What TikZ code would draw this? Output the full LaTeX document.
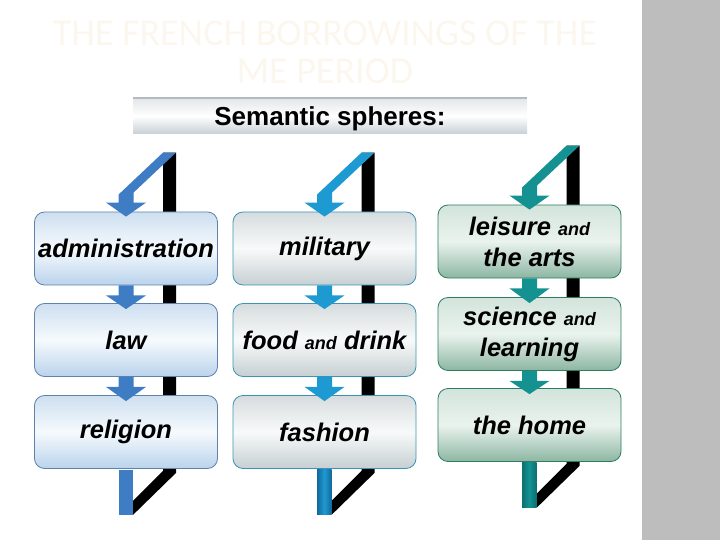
\documentclass[tikz,border=0pt]{standalone}
\usepackage{fontspec}
\setmainfont{Liberation Sans}
\newfontfamily\titlefont{Carlito}
\usetikzlibrary{calc,backgrounds}

\definecolor{blueA}{HTML}{3E7CC3}
\definecolor{blueB}{HTML}{1E9AD2}
\definecolor{blueBd}{HTML}{10689A}
\definecolor{tealC}{HTML}{149292}
\definecolor{tealCd}{HTML}{0B7070}
\definecolor{panelgray}{HTML}{BDBDBD}
\definecolor{titlecol}{HTML}{FCF7EE}
\definecolor{bannerline}{HTML}{B4BABE}
\newcommand{\smalland}{{\fontsize{18}{20}\selectfont and}}

\begin{document}
\begin{tikzpicture}[x=1pt,y=-1pt,
  sphere/.style={rounded corners=10pt,minimum width=183pt,minimum height=73pt,
    inner sep=0pt,align=center,line width=0.8pt,
    font=\fontsize{25.5}{31}\selectfont\bfseries\itshape},
  sphereA/.style={sphere,draw={rgb,255:red,95;green,130;blue,172},
    top color={rgb,255:red,205;green,223;blue,240},bottom color={rgb,255:red,186;green,211;blue,236},
    middle color={rgb,255:red,246;green,250;blue,253}},
  sphereB/.style={sphere,draw={rgb,255:red,60;green,147;blue,181},
    top color={rgb,255:red,214;green,220;blue,222},bottom color={rgb,255:red,198;green,207;blue,210},
    middle color={rgb,255:red,248;green,250;blue,250}},
  sphereC/.style={sphere,draw={rgb,255:red,46;green,125;blue,98},
    top color={rgb,255:red,210;green,228;blue,220},bottom color={rgb,255:red,140;green,182;blue,162},
    middle color={rgb,255:red,234;green,243;blue,238}},
  banner/.style={minimum width=394pt,minimum height=36pt,inner sep=0pt,text depth=0pt,
    top color={rgb,255:red,226;green,230;blue,232},bottom color={rgb,255:red,200;green,208;blue,213},
    middle color=white,font=\fontsize{26}{30}\selectfont\bfseries}]
\useasboundingbox (0,0) rectangle (720,540);
\fill[panelgray] (642,0) rectangle (720,540);
\node[font=\titlefont\fontsize{38}{38}\selectfont,text=titlecol,align=center] (title) at (325,52) {THE FRENCH BORROWINGS OF THE\\ME PERIOD};
\node[banner] (sem) at (330,116) {Semantic spheres:};
\draw[line width=1.5pt,bannerline] (sem.north west) -- (sem.north east);
\node[sphereA] (a1) at (126,248.5) {administration};
\node[sphereA] (a2) at (126,340) {law};
\node[sphereA] (a3) at (126,432) {religion};
\node[sphereB] (m1) at (324.5,248.5) {military};
\node[sphereB] (m2) at (324.5,340) {food \smalland{} drink};
\node[sphereB] (m3) at (324.5,432) {fashion};
\node[sphereC] (l1) at (529.5,241.5) {leisure \smalland\\the arts};
\node[sphereC] (l2) at (529.5,334) {science \smalland\\learning};
\node[sphereC] (l3) at (529.5,425) {the home};
\begin{scope}[on background layer]
\fill[black] ($(a1.north)+(37,-59)$) -- ++(13,0) -- ($(a3.south)+(50,4)$) -- ($(a3.south)+(7,46)$) -- ++(0,-14) -- ($(a3.south)+(37,2)$) -- cycle;
\fill[black] ($(m1.north)+(37,-59)$) -- ++(13,0) -- ($(m3.south)+(50,4)$) -- ($(m3.south)+(7,46)$) -- ++(0,-14) -- ($(m3.south)+(37,2)$) -- cycle;
\fill[black] ($(l1.north)+(37,-59)$) -- ++(13,0) -- ($(l3.south)+(50,4)$) -- ($(l3.south)+(7,46)$) -- ++(0,-14) -- ($(l3.south)+(37,2)$) -- cycle;
\end{scope}
% administration, law, religion
\fill[blueA] ($(a1.north)+(37,-59)$) -- ++(13,0) -- ($(a1.north)+(7.5,-19)$) -- ++(0,10) -- ++(12.5,0) -- ($(a1.north)+(0,5)$) -- ++(-20,-14) -- ++(12.5,0) -- ++(0,-8) -- cycle;
\fill[blueA] ($(a1.south)+(-7.5,0)$) -- ++(0,10) -- ++(-12.5,0) -- ($(a2.north)+(0,6)$) -- ($(a1.south)+(20,10)$) -- ++(-12.5,0) -- ++(0,-10) -- cycle;
\fill[blueA] ($(a2.south)+(-7.5,0)$) -- ++(0,10) -- ++(-12.5,0) -- ($(a3.north)+(0,6)$) -- ($(a2.south)+(20,10)$) -- ++(-12.5,0) -- ++(0,-10) -- cycle;
\fill[blueA] ($(a3.south)+(-7.5,1)$) rectangle ($(a3.south)+(7,46)$);
% military, food and drink, fashion
\fill[blueB] ($(m1.north)+(37,-59)$) -- ++(13,0) -- ($(m1.north)+(7.5,-19)$) -- ++(0,10) -- ++(12.5,0) -- ($(m1.north)+(0,5)$) -- ++(-20,-14) -- ++(12.5,0) -- ++(0,-8) -- cycle;
\fill[blueB] ($(m1.south)+(-7.5,0)$) -- ++(0,10) -- ++(-12.5,0) -- ($(m2.north)+(0,6)$) -- ($(m1.south)+(20,10)$) -- ++(-12.5,0) -- ++(0,-10) -- cycle;
\fill[blueB] ($(m2.south)+(-7.5,0)$) -- ++(0,10) -- ++(-12.5,0) -- ($(m3.north)+(0,6)$) -- ($(m2.south)+(20,10)$) -- ++(-12.5,0) -- ++(0,-10) -- cycle;
\shade[left color=blueBd,right color=blueBd,middle color=blueB] ($(m3.south)+(-7.5,1)$) rectangle ($(m3.south)+(7,46)$);
% leisure, science, the home
\fill[tealC] ($(l1.north)+(37,-59)$) -- ++(13,0) -- ($(l1.north)+(7.5,-19)$) -- ++(0,10) -- ++(12.5,0) -- ($(l1.north)+(0,5)$) -- ++(-20,-14) -- ++(12.5,0) -- ++(0,-8) -- cycle;
\fill[tealC] ($(l1.south)+(-7.5,0)$) -- ++(0,10) -- ++(-12.5,0) -- ($(l2.north)+(0,6)$) -- ($(l1.south)+(20,10)$) -- ++(-12.5,0) -- ++(0,-10) -- cycle;
\fill[tealC] ($(l2.south)+(-7.5,0)$) -- ++(0,10) -- ++(-12.5,0) -- ($(l3.north)+(0,6)$) -- ($(l2.south)+(20,10)$) -- ++(-12.5,0) -- ++(0,-10) -- cycle;
\shade[left color=tealCd,right color=tealCd,middle color=tealC] ($(l3.south)+(-7.5,1)$) rectangle ($(l3.south)+(7,46)$);
\end{tikzpicture}
\end{document}
